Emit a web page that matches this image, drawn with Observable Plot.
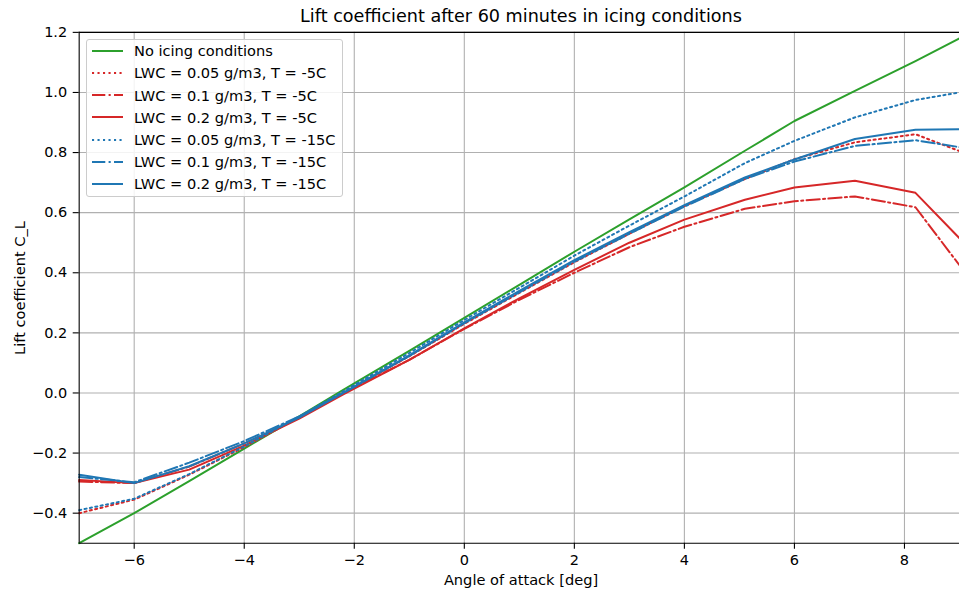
<!DOCTYPE html>
<html>
<head>
<meta charset="utf-8">
<script src="https://cdn.jsdelivr.net/npm/d3@7"></script>
<script src="https://cdn.jsdelivr.net/npm/@observablehq/plot@0.6"></script>
<style>
  html, body { margin: 0; padding: 0; background: #fff; overflow: hidden; }
  #wrap { position: relative; width: 959px; height: 591px; overflow: hidden; font-family: "DejaVu Sans", sans-serif; color: #000; }
  #title { position: absolute; left: 79px; width: 884px; top: 5.5px; text-align: center; font-size: 17.6px; line-height: 20px; }
  #xlabel { position: absolute; left: 79px; width: 884px; top: 571px; text-align: center; font-size: 14.6px; line-height: 18px; }
  #ylabel { position: absolute; left: 20px; top: 288px; transform: translate(-50%, -50%) rotate(-90deg); white-space: nowrap; font-size: 14.6px; line-height: 18px; }
  #legend { position: absolute; left: 86px; top: 39px; width: 257px; height: 158px; box-sizing: border-box; border: 1px solid #cccccc; border-radius: 3px; background: rgba(255,255,255,0.85); }
  .row { position: absolute; left: 0; height: 20px; display: flex; align-items: center; font-size: 14.6px; white-space: nowrap; }
  .row svg { margin-left: 5px; margin-right: 11px; }
</style>
</head>
<body>
<div id="wrap">
  <div id="chart"></div>
  <div id="title">Lift coefficient after 60 minutes in icing conditions</div>
  <div id="xlabel">Angle of attack [deg]</div>
  <div id="ylabel">Lift coefficient C_L</div>
  <div id="legend"></div>
</div>
<script>
// ---- Data ----
const angles      = [-7, -6, -5, -4, -3, -2.2, -1, 0, 1, 2, 3, 4, 5.1, 6, 7.1, 8.2, 9];
const noIcing     = [-0.500, -0.400, -0.293, -0.185, -0.078, 0.010, 0.140, 0.250, 0.360, 0.470, 0.578, 0.684, 0.806, 0.905, 1.005, 1.104, 1.180];
const lwc005_m5   = [-0.400, -0.355, -0.272, -0.180, -0.080, 0.000, 0.122, 0.230, 0.333, 0.435, 0.530, 0.622, 0.712, 0.778, 0.834, 0.861, 0.805];
const lwc01_m5    = [-0.295, -0.300, -0.245, -0.168, -0.083, 0.000, 0.110, 0.213, 0.310, 0.400, 0.485, 0.553, 0.613, 0.638, 0.654, 0.618, 0.425];
const lwc02_m5    = [-0.290, -0.300, -0.255, -0.175, -0.085, -0.005, 0.110, 0.215, 0.315, 0.410, 0.500, 0.577, 0.643, 0.684, 0.706, 0.666, 0.515];
const lwc005_m15  = [-0.390, -0.352, -0.270, -0.178, -0.078, 0.005, 0.133, 0.243, 0.350, 0.457, 0.557, 0.654, 0.765, 0.839, 0.917, 0.975, 1.000];
const lwc01_m15   = [-0.280, -0.297, -0.232, -0.160, -0.078, 0.000, 0.123, 0.232, 0.335, 0.437, 0.530, 0.620, 0.712, 0.770, 0.822, 0.841, 0.818];
const lwc02_m15   = [-0.272, -0.300, -0.244, -0.168, -0.082, 0.000, 0.125, 0.235, 0.340, 0.442, 0.535, 0.625, 0.717, 0.777, 0.845, 0.876, 0.878];

const seriesNames = [
  "No icing conditions",
  "LWC = 0.05 g/m3, T = -5C",
  "LWC = 0.1 g/m3, T = -5C",
  "LWC = 0.2 g/m3, T = -5C",
  "LWC = 0.05 g/m3, T = -15C",
  "LWC = 0.1 g/m3, T = -15C",
  "LWC = 0.2 g/m3, T = -15C"
];
const seriesValues = [noIcing, lwc005_m5, lwc01_m5, lwc02_m5, lwc005_m15, lwc01_m15, lwc02_m15];
const seriesColors = ["#2ca02c", "#d62728", "#d62728", "#d62728", "#1f77b4", "#1f77b4", "#1f77b4"];
const seriesDash   = [null, "2.1,3.4", "13.3,3.3,2.1,3.3", null, "2.1,3.4", "13.3,3.3,2.1,3.3", null];

const xTicks = [-6, -4, -2, 0, 2, 4, 6, 8];
const yTicks = [-0.4, -0.2, 0.0, 0.2, 0.4, 0.6, 0.8, 1.0, 1.2];

// ---- Build ----
const fmtY = d3.format(".1f");
const fmtX = d3.format("d");

const lineMarks = seriesValues.map((vals, i) => {
  const data = angles.map((a, j) => ({angle: a, cl: vals[j]}));
  return Plot.line(data, {
    x: "angle", y: "cl",
    stroke: seriesColors[i],
    strokeWidth: 2,
    strokeDasharray: seriesDash[i] || undefined,
    strokeLinejoin: "round"
  });
});

const chart = Plot.plot({
  width: 963,
  height: 591,
  marginLeft: 79,
  marginRight: 0,
  marginTop: 32,
  marginBottom: 46,
  style: { fontFamily: "DejaVu Sans, sans-serif", fontSize: "14.6px", color: "#000", background: "#fff", overflow: "visible" },
  x: { domain: [-7, 9] },
  y: { domain: [-0.5, 1.2] },
  marks: [
    Plot.gridX(xTicks, { stroke: "#b0b0b0", strokeOpacity: 1, strokeWidth: 1.1 }),
    Plot.gridY(yTicks, { stroke: "#b0b0b0", strokeOpacity: 1, strokeWidth: 1.1 }),
    ...lineMarks,
    Plot.ruleX([-7], { stroke: "#000", strokeWidth: 1.1 }),
    Plot.ruleY([-0.5], { stroke: "#000", strokeWidth: 1.1 }),
    Plot.ruleY([1.2], { stroke: "#000", strokeWidth: 1.1 }),
    Plot.axisX(xTicks, { tickSize: 6, tickPadding: 5, tickFormat: fmtX, label: null, stroke: "#000", strokeWidth: 1.1 }),
    Plot.axisY(yTicks, { tickSize: 6, tickPadding: 6, tickFormat: fmtY, label: null, stroke: "#000", strokeWidth: 1.1 })
  ]
});
document.getElementById("chart").appendChild(chart);

// ---- Legend ----
const legend = document.getElementById("legend");
seriesNames.forEach((name, i) => {
  const row = document.createElement("div");
  row.className = "row";
  row.style.top = (0.7 + i * 22.2) + "px";
  const dash = seriesDash[i] ? ` stroke-dasharray="${seriesDash[i]}"` : "";
  row.innerHTML = `<svg width="31" height="6"><line x1="0" y1="3" x2="31" y2="3" stroke="${seriesColors[i]}" stroke-width="2"${dash}/></svg><span>${name}</span>`;
  legend.appendChild(row);
});
</script>
</body>
</html>
